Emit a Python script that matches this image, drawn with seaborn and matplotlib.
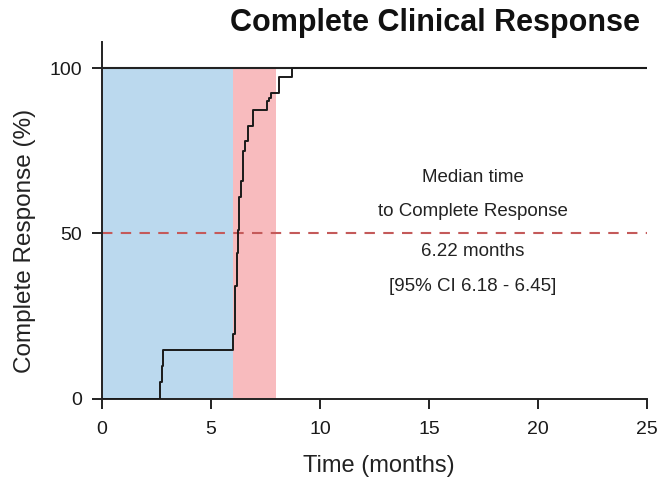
import matplotlib
matplotlib.use("Agg")
import matplotlib.pyplot as plt
import seaborn as sns
import pandas as pd

# Data
time_months = [0.0, 2.68, 2.73, 2.80, 6.02, 6.10, 6.18, 6.22, 6.28, 6.38, 6.46,
               6.57, 6.71, 6.94, 7.55, 7.65, 7.75, 8.12, 8.72, 25.0]
response_pct = [0.0, 5.0, 10.0, 14.6, 19.5, 34.0, 44.0, 51.0, 61.0, 66.0, 75.0,
                78.0, 82.7, 87.5, 90.0, 91.0, 92.5, 97.5, 100.0, 100.0]
blue_span = [0.0, 6.0]
pink_span = [6.0, 8.0]
median_level = 50
x_ticks = [0, 5, 10, 15, 20, 25]
y_ticks = [0, 50, 100]
annot_lines = ["Median time", "to Complete Response", "6.22 months", "[95% CI 6.18 - 6.45]"]
annot_y = [67.0, 56.6, 44.5, 33.9]
annot_x = 17.0

sns.set_style("ticks")
plt.rcParams['font.family'] = ['Liberation Sans', 'DejaVu Sans']

df = pd.DataFrame({"Time": time_months, "Response": response_pct})

fig = plt.figure(figsize=(6.59, 4.83), dpi=100)
ax = fig.add_axes([0.1548, 0.1749, 0.8270, 0.7381])
YTOP = 108

ax.axvspan(blue_span[0], blue_span[1], ymin=0, ymax=100 / YTOP, color="#BBD9EE", lw=0, zorder=0)
ax.axvspan(pink_span[0], pink_span[1], ymin=0, ymax=100 / YTOP, color="#F8BBBE", lw=0, zorder=0)
ax.axhline(100, color="#222222", lw=1.5, zorder=1)
ax.axhline(median_level, color="#C45A5A", lw=1.5, ls=(0, (5, 4)), zorder=2)

sns.lineplot(data=df, x="Time", y="Response", drawstyle="steps-post",
             color="#1a1a1a", lw=1.4, ax=ax, zorder=3)

for txt, yy in zip(annot_lines, annot_y):
    ax.text(annot_x, yy, txt, ha="center", va="center", fontsize=13.5, color="#222222")

ax.set_xlim(0, 25)
ax.set_ylim(0, YTOP)
ax.set_xticks(x_ticks)
ax.set_yticks(y_ticks)
ax.tick_params(axis="both", labelsize=14, length=7.2, width=1.4, color="#222222",
               labelcolor="#1a1a1a")
ax.tick_params(axis="x", pad=9)
ax.tick_params(axis="y", pad=7)
for s in ["left", "bottom"]:
    ax.spines[s].set_linewidth(1.4)
    ax.spines[s].set_color("#222222")
sns.despine(ax=ax)
ax.set_xlabel("")
ax.set_ylabel("")

fig.text(379 / 659, 1 - 466 / 483, "Time (months)", ha="center", va="center",
         fontsize=17, color="#222222")
fig.text(25 / 659, 1 - 241 / 483, "Complete Response (%)", ha="center", va="center",
         rotation=90, fontsize=17.5, color="#222222")
fig.text(435 / 659, 1 - 23 / 483, "Complete Clinical Response", ha="center", va="center",
         fontsize=22, fontweight="bold", color="#111111")

fig.savefig("out.png", dpi=100)
